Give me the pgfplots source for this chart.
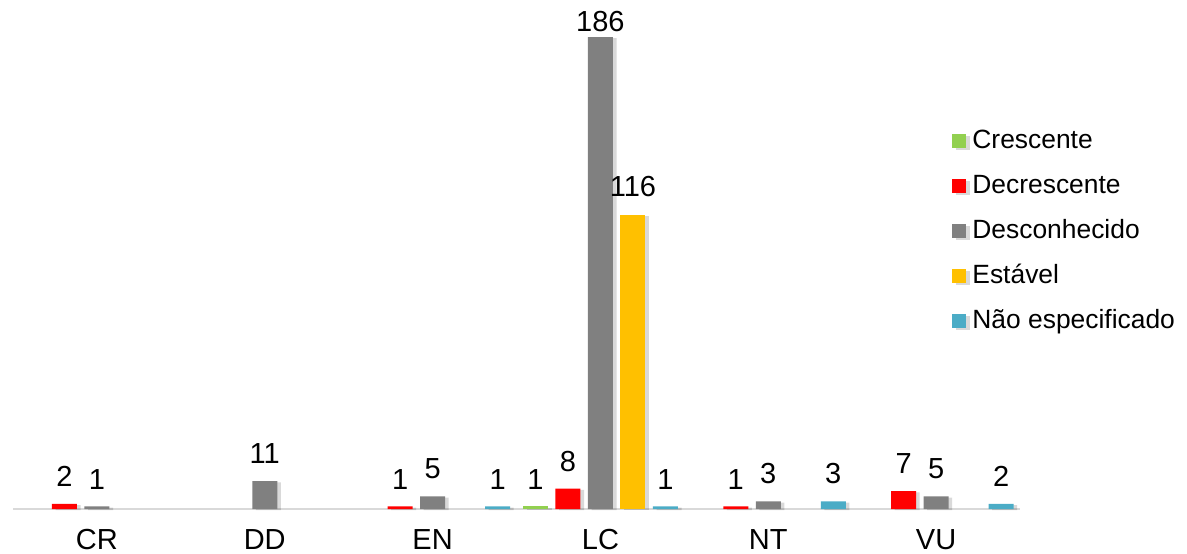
\documentclass[border=0pt]{standalone}
\usepackage{fontspec}
\setmainfont{Liberation Sans}
\usepackage{pgfplots}
\pgfplotsset{compat=1.18}
\usetikzlibrary{shadows}

\definecolor{cres}{HTML}{92D050}
\definecolor{decr}{HTML}{FF0000}
\definecolor{desc}{HTML}{808080}
\definecolor{esta}{HTML}{FFC000}
\definecolor{naoe}{HTML}{4BACC6}
\definecolor{baseline}{HTML}{D9D9D9}

\newcommand{\lblfont}{\fontsize{14.5}{17}\selectfont}
\newcommand{\legfont}{\fontsize{13.2}{15}\selectfont}

\tikzset{barshadow/.style={drop shadow={shadow xshift=1.8pt, shadow yshift=-0.6pt, opacity=0.15, fill=black}}}

\begin{document}
\begin{tikzpicture}
  \begin{axis}[
      at={(0,0)}, anchor=south west,
      scale only axis,
      width=503.5pt, height=236pt,
      xmin=-0.5, xmax=5.5,
      ymin=0, ymax=186,
      clip=false,
      ybar=3.75pt,
      bar width=12.5pt,
      hide y axis,
      axis x line=bottom,
      x axis line style={-, draw=baseline, line width=1pt},
      xtick={0,1,2,3,4,5},
      xticklabels={CR,DD,EN,LC,NT,VU},
      major tick length=0pt,
      xticklabel style={font=\lblfont, inner sep=0pt, yshift=-10pt},
      nodes near coords,
      visualization depends on={y \as \rawy},
      every node near coord/.append style={font=\lblfont, text=black, inner sep=0pt,
        /pgf/number format/assume math mode=true,
        yshift={\rawy>150 ? 2.5 : 8.5}},
      legend style={
        at={(0.9325,0.805)}, anchor=north west,
        draw=none, fill=none, inner sep=0pt,
        font=\legfont,
        row sep=10.5pt,
        nodes={inner sep=0pt, text height=9.5pt, text depth=2.5pt},
      },
      legend cell align=left,
    ]
    \addplot[draw=none, fill=cres, barshadow,
      legend image code/.code={\fill[cres] (0pt,-3.5pt) rectangle (7pt,3.5pt); \path (10pt,0pt);}]
      coordinates {(3,1)};
    \addlegendentry{Crescente}
    \addplot[draw=none, fill=decr, barshadow,
      legend image code/.code={\fill[decr] (0pt,-3.5pt) rectangle (7pt,3.5pt); \path (10pt,0pt);}]
      coordinates {(0,2) (2,1) (3,8) (4,1) (5,7)};
    \addlegendentry{Decrescente}
    \addplot[draw=none, fill=desc, barshadow,
      legend image code/.code={\fill[desc] (0pt,-3.5pt) rectangle (7pt,3.5pt); \path (10pt,0pt);}]
      coordinates {(0,1) (1,11) (2,5) (3,186) (4,3) (5,5)};
    \addlegendentry{Desconhecido}
    \addplot[draw=none, fill=esta, barshadow,
      legend image code/.code={\fill[esta] (0pt,-3.5pt) rectangle (7pt,3.5pt); \path (10pt,0pt);}]
      coordinates {(3,116)};
    \addlegendentry{Estável}
    \addplot[draw=none, fill=naoe, barshadow,
      legend image code/.code={\fill[naoe] (0pt,-3.5pt) rectangle (7pt,3.5pt); \path (10pt,0pt);}]
      coordinates {(2,1) (3,1) (4,3) (5,2)};
    \addlegendentry{Não especificado}
  \end{axis}
  \pgfresetboundingbox
  \path (-6.5pt,-22pt) rectangle (587pt,254.5pt);
\end{tikzpicture}
\end{document}
